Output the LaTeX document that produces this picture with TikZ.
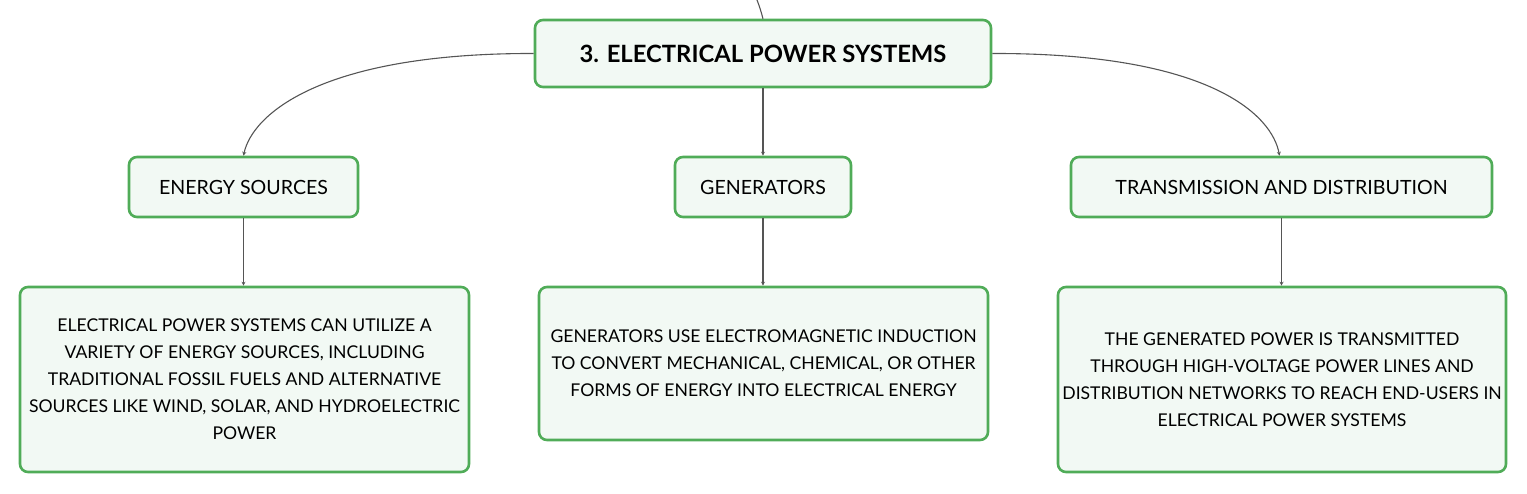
\documentclass[tikz,border=0pt]{standalone}
\usepackage{fontspec}
\setmainfont{Lato}
\usetikzlibrary{arrows.meta}
\definecolor{boxgreen}{RGB}{80,172,88}
\definecolor{boxfill}{RGB}{242,249,244}
\definecolor{linegray}{RGB}{85,85,85}
\tikzset{
  box/.style={draw=boxgreen, line width=2.6pt, fill=boxfill, rounded corners=8pt, inner sep=0pt, align=center, font=\fontsize{17.6}{27}\selectfont},
  link/.style={draw=linegray, line width=1.1pt, -{Stealth[length=4pt,width=4pt]}},
}
\begin{document}
\begin{tikzpicture}[x=1pt,y=-1pt]
\useasboundingbox (0,0) rectangle (1527,494);
\node[box, minimum width=456pt, minimum height=67pt, font=\fontsize{23.8}{28}\selectfont\bfseries] (root) at (763,53.5) {3. ELECTRICAL POWER SYSTEMS};
\node[box, minimum width=229pt, minimum height=60pt, font=\fontsize{19.6}{24}\selectfont] (es) at (243.5,187) {ENERGY SOURCES};
\node[box, minimum width=176pt, minimum height=60pt, font=\fontsize{19.6}{24}\selectfont] (gen) at (763,187) {GENERATORS};
\node[box, minimum width=421pt, minimum height=60pt, font=\fontsize{19.6}{24}\selectfont] (td) at (1281.5,187) {TRANSMISSION AND DISTRIBUTION};
\node[box, minimum width=449pt, minimum height=185pt] (d1) at (244.5,379.5) {ELECTRICAL POWER SYSTEMS CAN UTILIZE A\\VARIETY OF ENERGY SOURCES, INCLUDING\\TRADITIONAL FOSSIL FUELS AND ALTERNATIVE\\SOURCES LIKE WIND, SOLAR, AND HYDROELECTRIC\\POWER};
\node[box, minimum width=449pt, minimum height=153pt] (d2) at (763.5,363.5) {GENERATORS USE ELECTROMAGNETIC INDUCTION\\TO CONVERT MECHANICAL, CHEMICAL, OR OTHER\\FORMS OF ENERGY INTO ELECTRICAL ENERGY};
\node[box, minimum width=448pt, minimum height=185pt] (d3) at (1282,379.5) {THE GENERATED POWER IS TRANSMITTED\\THROUGH HIGH-VOLTAGE POWER LINES AND\\DISTRIBUTION NETWORKS TO REACH END-USERS IN\\ELECTRICAL POWER SYSTEMS};
\coordinate (top) at (757,0);
\draw[draw=linegray, line width=1.1pt] (top) .. controls (760,8) .. (root.north);
\draw[link] (root.west) .. controls (320,53) and (252,115) .. (es.north);
\draw[link] (root.east) .. controls (1210,53) and (1272,115) .. ([xshift=-2pt]td.north);
\draw[link] (root.south) -- (gen.north);
\draw[link] (es.south) -- (es.south |- d1.north);
\draw[link] (gen.south) -- (gen.south |- d2.north);
\draw[link] (td.south) -- (td.south |- d3.north);
\end{tikzpicture}
\end{document}
